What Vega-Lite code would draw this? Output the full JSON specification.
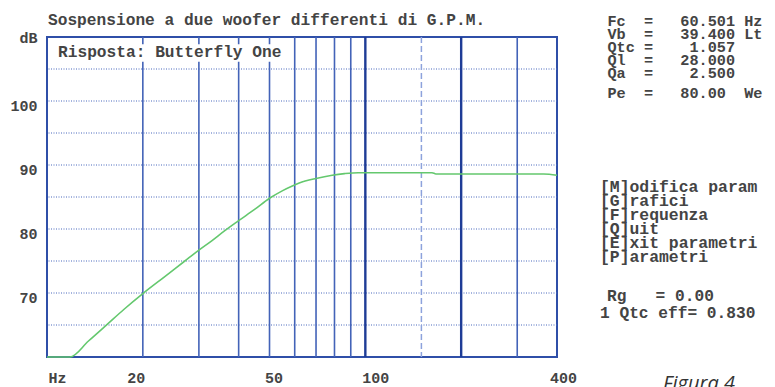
{
  "$schema": "https://vega.github.io/schema/vega-lite/v6.json",
  "width": 510,
  "height": 320,
  "autosize": {"type": "none"},
  "padding": {"left": 47, "top": 37, "right": 218, "bottom": 30},
  "background": "white",
  "config": {"view": {"stroke": "#2f4fa8", "strokeWidth": 2}},
  "datasets": {
    "curve": [
      {"f": 10, "db": 60}, {"f": 11.8, "db": 60}, {"f": 13.5, "db": 62.5}, {"f": 15.3, "db": 64.9},
      {"f": 17.5, "db": 67.5}, {"f": 20, "db": 69.9}, {"f": 23.5, "db": 72.6}, {"f": 27.1, "db": 75},
      {"f": 30, "db": 76.7}, {"f": 33, "db": 78.2}, {"f": 36.1, "db": 79.7}, {"f": 40, "db": 81.3},
      {"f": 45, "db": 83.1}, {"f": 50, "db": 84.8}, {"f": 55, "db": 86.0}, {"f": 62, "db": 87.2},
      {"f": 70, "db": 87.9}, {"f": 78.7, "db": 88.4}, {"f": 86, "db": 88.65}, {"f": 95, "db": 88.8},
      {"f": 120, "db": 88.8}, {"f": 162, "db": 88.8}, {"f": 166.6, "db": 88.6}, {"f": 250, "db": 88.6},
      {"f": 363, "db": 88.6}, {"f": 400, "db": 88.4}
    ],
    "vlines": [{"f": 20}, {"f": 30}, {"f": 40}, {"f": 50}, {"f": 60}, {"f": 70}, {"f": 80}, {"f": 90}, {"f": 300}],
    "vdark": [{"f": 100}, {"f": 200}],
    "vdash": [{"f": 150}],
    "hlines": [{"db": 65}, {"db": 70}, {"db": 75}, {"db": 80}, {"db": 85}, {"db": 90}, {"db": 95}, {"db": 100}, {"db": 105}],
    "box": [{"col": 5.6, "col2": 29.2, "row": 3.4, "row2": 4.75}],
    "screen": [
      {"text": "Sospensione a due woofer differenti di G.P.M.", "col": 4.92, "row": 1.5},
      {"text": "Risposta:\u00a0Butterfly One", "col": 5.95, "row": 4.0},
      {"text": "Rg\u00a0\u00a0\u00a0=\u00a00.00", "col": 62.26, "row": 22.77},
      {"text": "1\u00a0Qtc\u00a0eff=\u00a00.830", "col": 61.54, "row": 24.08}
    ],
    "params": [
      {"text": "Fc\u00a0\u00a0=\u00a0\u00a0\u00a060.501\u00a0Hz", "col": 62.3, "row": 1.58},
      {"text": "Vb\u00a0\u00a0=\u00a0\u00a0\u00a039.400\u00a0Lt", "col": 62.3, "row": 2.58},
      {"text": "Qtc\u00a0=\u00a0\u00a0\u00a0\u00a01.057", "col": 62.3, "row": 3.58},
      {"text": "Ql\u00a0\u00a0=\u00a0\u00a0\u00a028.000", "col": 62.3, "row": 4.58},
      {"text": "Qa\u00a0\u00a0=\u00a0\u00a0\u00a0\u00a02.500", "col": 62.3, "row": 5.58},
      {"text": "Pe\u00a0\u00a0=\u00a0\u00a0\u00a080.00\u00a0\u00a0We", "col": 62.3, "row": 7.15}
    ],
    "menu": [
      {"text": "[M]odifica param", "col": 61.54, "row": 14.38},
      {"text": "[G]rafici", "col": 61.54, "row": 15.46},
      {"text": "[F]requenza", "col": 61.54, "row": 16.54},
      {"text": "[Q]uit", "col": 61.54, "row": 17.62},
      {"text": "[E]xit parametri", "col": 61.54, "row": 18.69},
      {"text": "[P]arametri", "col": 61.54, "row": 19.77}
    ],
    "caption": [{"text": "Figura 4", "col": 68.0, "row": 30.0}]
  },
  "resolve": {"scale": {"x": "independent", "y": "independent"}},
  "layer": [
    {
      "layer": [
        {
          "data": {"name": "hlines"},
          "mark": {"type": "rule", "color": "#4a68bd", "strokeWidth": 1, "strokeDash": [1, 1.5]},
          "encoding": {"y": {"field": "db", "type": "quantitative"}}
        },
        {
          "data": {"name": "vlines"},
          "mark": {"type": "rule", "color": "#4363b8", "strokeWidth": 1.6},
          "encoding": {"x": {"field": "f", "type": "quantitative"}}
        },
        {
          "data": {"name": "vdark"},
          "mark": {"type": "rule", "color": "#1e3c96", "strokeWidth": 2.4},
          "encoding": {"x": {"field": "f", "type": "quantitative"}}
        },
        {
          "data": {"name": "vdash"},
          "mark": {"type": "rule", "color": "#8da2dc", "strokeWidth": 1.5, "strokeDash": [6, 3]},
          "encoding": {"x": {"field": "f", "type": "quantitative"}}
        },
        {
          "data": {"name": "curve"},
          "mark": {"type": "line", "color": "#64c86e", "strokeWidth": 1.6, "interpolate": "monotone"},
          "encoding": {
            "x": {
              "field": "f", "type": "quantitative",
              "scale": {"type": "log", "domain": [10, 400], "nice": false},
              "axis": {
                "values": [10, 20, 50, 100, 400],
                "labelExpr": "datum.value == 10 ? 'Hz' : format(datum.value, 'd')",
                "grid": false, "ticks": false, "domain": false, "title": null,
                "labelFont": "Liberation Mono", "labelFontWeight": "bold", "labelFontSize": 15, "labelColor": "#444444",
                "labelPadding": 13, "labelFlush": false, "labelOverlap": false,
                "labelOffset": {"condition": [
                  {"test": "datum.value == 10", "value": 10},
                  {"test": "datum.value == 20", "value": -7},
                  {"test": "datum.value == 50", "value": 4},
                  {"test": "datum.value == 100", "value": 10}
                ], "value": 6}
              }
            },
            "y": {
              "field": "db", "type": "quantitative",
              "scale": {"domain": [60, 110], "nice": false, "zero": false},
              "axis": {
                "values": [70, 80, 90, 100, 110],
                "labelExpr": "datum.value == 110 ? 'dB' : datum.label",
                "grid": false, "ticks": false, "domain": false, "title": null,
                "labelFont": "Liberation Mono", "labelFontWeight": "bold", "labelFontSize": 15, "labelColor": "#444444",
                "labelPadding": 10, "labelFlush": false, "labelOverlap": false,
                "labelOffset": {"condition": {"test": "datum.value == 110", "value": 0}, "value": 4}
              }
            }
          }
        }
      ]
    },
    {
      "layer": [
        {
          "data": {"name": "box"},
          "mark": {"type": "rect", "color": "white"},
          "encoding": {
            "x": {"field": "col", "type": "quantitative", "scale": {"domain": [4.8205, 57.1282], "nice": false, "zero": false}, "axis": null},
            "x2": {"field": "col2"},
            "y": {"field": "row", "type": "quantitative", "scale": {"domain": [2.846, 27.462], "nice": false, "zero": false, "reverse": true}, "axis": null},
            "y2": {"field": "row2"}
          }
        },
        {
          "data": {"name": "screen"},
          "mark": {"type": "text", "align": "left", "baseline": "middle", "font": "Liberation Mono", "fontWeight": "bold", "fontSize": 16.2, "color": "#444444"},
          "encoding": {
            "x": {"field": "col", "type": "quantitative", "axis": null},
            "y": {"field": "row", "type": "quantitative", "axis": null},
            "text": {"field": "text"}
          }
        },
        {
          "data": {"name": "params"},
          "mark": {"type": "text", "align": "left", "baseline": "middle", "font": "Liberation Mono", "fontWeight": "bold", "fontSize": 15.2, "color": "#444444"},
          "encoding": {
            "x": {"field": "col", "type": "quantitative", "axis": null},
            "y": {"field": "row", "type": "quantitative", "axis": null},
            "text": {"field": "text"}
          }
        },
        {
          "data": {"name": "menu"},
          "mark": {"type": "text", "align": "left", "baseline": "middle", "font": "Liberation Mono", "fontWeight": "bold", "fontSize": 16.4, "color": "#444444"},
          "encoding": {
            "x": {"field": "col", "type": "quantitative", "axis": null},
            "y": {"field": "row", "type": "quantitative", "axis": null},
            "text": {"field": "text"}
          }
        },
        {
          "data": {"name": "caption"},
          "mark": {"type": "text", "align": "left", "baseline": "alphabetic", "font": "Open Sans", "fontStyle": "italic", "fontSize": 20, "color": "#333333"},
          "encoding": {
            "x": {"field": "col", "type": "quantitative", "axis": null},
            "y": {"field": "row", "type": "quantitative", "axis": null},
            "text": {"field": "text"}
          }
        }
      ]
    }
  ]
}
